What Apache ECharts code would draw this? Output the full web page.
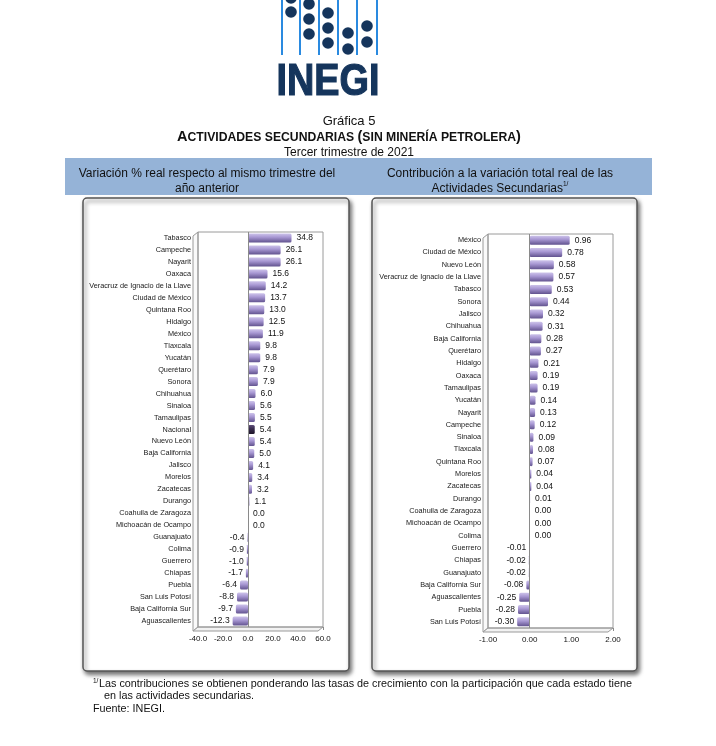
<!DOCTYPE html>
<html><head><meta charset="utf-8">
<script src="https://cdn.jsdelivr.net/npm/echarts@6/dist/echarts.min.js"></script>
<style>html,body{margin:0;padding:0;background:#fff}#c{width:716px;height:746px}</style>
</head><body><div id="c"></div>
<script>
const leftCategories = ['Tabasco','Campeche','Nayarit','Oaxaca','Veracruz de Ignacio de la Llave','Ciudad de México','Quintana Roo','Hidalgo','México','Tlaxcala','Yucatán','Querétaro','Sonora','Chihuahua','Sinaloa','Tamaulipas','Nacional','Nuevo León','Baja California','Jalisco','Morelos','Zacatecas','Durango','Coahuila de Zaragoza','Michoacán de Ocampo','Guanajuato','Colima','Guerrero','Chiapas','Puebla','San Luis Potosí','Baja California Sur','Aguascalientes'];
const leftValues = [34.8,26.1,26.1,15.6,14.2,13.7,13.0,12.5,11.9,9.8,9.8,7.9,7.9,6.0,5.6,5.5,5.4,5.4,5.0,4.1,3.4,3.2,1.1,0.0,0.0,-0.4,-0.9,-1.0,-1.7,-6.4,-8.8,-9.7,-12.3];
const rightCategories = ['México','Ciudad de México','Nuevo León','Veracruz de Ignacio de la Llave','Tabasco','Sonora','Jalisco','Chihuahua','Baja California','Querétaro','Hidalgo','Oaxaca','Tamaulipas','Yucatán','Nayarit','Campeche','Sinaloa','Tlaxcala','Quintana Roo','Morelos','Zacatecas','Durango','Coahuila de Zaragoza','Michoacán de Ocampo','Colima','Guerrero','Chiapas','Guanajuato','Baja California Sur','Aguascalientes','Puebla','San Luis Potosí'];
const rightValues = [0.96,0.78,0.58,0.57,0.53,0.44,0.32,0.31,0.28,0.27,0.21,0.19,0.19,0.14,0.13,0.12,0.09,0.08,0.07,0.04,0.04,0.01,0.00,0.00,0.00,-0.01,-0.02,-0.02,-0.08,-0.25,-0.28,-0.30];
const leftAxis = {min:-40, max:60, interval:20, decimals:1};
const rightAxis = {min:-1, max:2, interval:1, decimals:2};
const highlightCategory = 'Nacional';

const FONT = '"Liberation Sans", Arial, sans-serif';
const chart = echarts.init(document.getElementById('c'), null, {renderer:'canvas'});

const barGrad = new echarts.graphic.LinearGradient(0,0,0,1,[
  {offset:0,color:'#cdc3ea'},{offset:0.4,color:'#a999d4'},{offset:1,color:'#62538f'}]);
const darkGrad = new echarts.graphic.LinearGradient(0,0,0,1,[
  {offset:0,color:'#5e4f7a'},{offset:0.4,color:'#3a2d50'},{offset:1,color:'#1d1528'}]);

const G = [
  {left:198, top:232, width:125, height:395},
  {left:488, top:234, width:125, height:394}
];

function buildData(cats, vals, dec){
  return vals.map((v,i)=>({
    value:v,
    label:{position: v<0?'left':'right', distance: v<0?3:5, formatter: ()=>v.toFixed(dec)},
    itemStyle: cats[i]===highlightCategory ? {color:darkGrad} : {color:barGrad}
  }));
}

function catAxis(gi, cats, fs){
  return {type:'category', gridIndex:gi, data:cats, inverse:true,
     axisLine:{show:false}, axisTick:{show:false},
     axisLabel:{fontFamily:FONT, fontSize:fs, color:'#1a1a1a', margin:7, interval:0}};
}

function valAxis(gi, ax){
  return {type:'value', gridIndex:gi, min:ax.min, max:ax.max, interval:ax.interval,
    splitLine:{show:false},
    axisLine:{show:true, onZero:false, lineStyle:{color:'#8a8a8a'}},
    axisTick:{show:true, length:3, lineStyle:{color:'#8a8a8a'}},
    axisLabel:{fontFamily:FONT, fontSize:8, color:'#111', margin:8,
      formatter:(v)=>v.toFixed(ax.decimals)}};
}

function frame(g){
  const L=g.left, T=g.top, R=g.left+g.width, B=g.top+g.height, d=5;
  return [
    {type:'polygon', shape:{points:[[L,T],[L,B],[L-d,B+4],[L-d,T+4]]}, style:{fill:'#fafafa', stroke:'#9a9a9a', lineWidth:1}, z:1},
    {type:'polygon', shape:{points:[[L,B],[R,B],[R-d,B+4],[L-d,B+4]]}, style:{fill:'#f2f2f2', stroke:'#9a9a9a', lineWidth:1}, z:1},
    {type:'rect', shape:{x:L,y:T,width:g.width,height:g.height}, style:{fill:'none', stroke:'#9a9a9a', lineWidth:1}, z:1}
  ];
}

const logoLines = [282,300,319,338,357,377];
const logoDots = [[291,-2],[291,12],[309,4],[309,19],[309,34],[328,13],[328,28],[328,43],[348,33],[348,49],[367,26],[367,42]];

const graphic = [
  {type:'rect', shape:{x:83,y:198,width:266,height:473,r:4}, style:{fill:'#fff', stroke:'#555', lineWidth:1.5, shadowBlur:4, shadowOffsetX:2, shadowOffsetY:3, shadowColor:'rgba(0,0,0,0.55)'}, z:-5},
  {type:'rect', shape:{x:372,y:198,width:265,height:473,r:4}, style:{fill:'#fff', stroke:'#555', lineWidth:1.5, shadowBlur:4, shadowOffsetX:2, shadowOffsetY:3, shadowColor:'rgba(0,0,0,0.55)'}, z:-5},
  {type:'rect', shape:{x:65,y:158,width:587,height:37}, style:{fill:'#95b3d7'}, z:-5},
  {type:'text', x:349, y:114, style:{
    text:'{a|Gráfica 5}\n{b|A}{c|CTIVIDADES SECUNDARIAS }{b|(}{c|SIN MINERÍA PETROLERA}{b|)}\n{d|Tercer trimestre de 2021}',
    align:'center', verticalAlign:'top', lineHeight:15.5,
    rich:{
      a:{fontFamily:FONT, fontSize:13, fill:'#111', lineHeight:15.5},
      b:{fontFamily:FONT, fontSize:14.5, fontWeight:'bold', fill:'#111', lineHeight:15.5},
      c:{fontFamily:FONT, fontSize:12.2, fontWeight:'bold', fill:'#111', lineHeight:15.5},
      d:{fontFamily:FONT, fontSize:12, fill:'#111', lineHeight:15.5}
    }}, z:3},
  {type:'text', x:207, y:166, style:{text:'Variación % real respecto al mismo trimestre del\naño anterior', fontFamily:FONT, fontSize:12, fill:'#111', align:'center', verticalAlign:'top', lineHeight:15}, z:3},
  {type:'text', x:500, y:166, style:{text:'{t|Contribución a la variación total real de las}\n{t|Actividades Secundarias}{s|1/}', fontFamily:FONT, fontSize:12, fill:'#111', align:'center', verticalAlign:'top', lineHeight:15,
    rich:{t:{fontFamily:FONT, fontSize:12, fill:'#111', lineHeight:15}, s:{fontFamily:FONT, fontSize:6.5, fill:'#111', verticalAlign:'top', lineHeight:15}}}, z:3},
  {type:'text', x:93, y:678, style:{text:'1/', fontFamily:FONT, fontSize:6.5, fill:'#111'}, z:3},
  {type:'text', x:99, y:679, style:{text:'Las contribuciones se obtienen ponderando las tasas de crecimiento con la participación que cada estado tiene', fontFamily:FONT, fontSize:10.8, fill:'#111'}, z:3},
  {type:'text', x:104, y:691, style:{text:'en las actividades secundarias.', fontFamily:FONT, fontSize:10.8, fill:'#111'}, z:3},
  {type:'text', x:93, y:704, style:{text:'Fuente: INEGI.', fontFamily:FONT, fontSize:10.8, fill:'#111'}, z:3},
  {type:'text', x:328, y:61, scaleX:0.86, originX:0, originY:0, style:{text:'INEGI', fontFamily:FONT, fontWeight:'bold', fontSize:44, fill:'#15355c', stroke:'#15355c', lineWidth:1.2, align:'center', verticalAlign:'top'}, z:3}
].concat(logoLines.map(x=>({type:'line', shape:{x1:x,y1:0,x2:x,y2:55}, style:{stroke:'#2a8ae0', lineWidth:2}, z:2})))
 .concat(logoDots.map(p=>({type:'circle', shape:{cx:p[0],cy:p[1],r:5.8}, style:{fill:'#15355c'}, z:3})))
 .concat(frame(G[0])).concat(frame(G[1]));

const labelStyle = (fs)=>({show:true, fontFamily:FONT, fontSize:fs, color:'#111'});
const zeroLine = {silent:true, symbol:'none', label:{show:false}, lineStyle:{color:'#8a8a8a', type:'solid', width:1}, data:[{xAxis:0}]};

chart.setOption({
  backgroundColor:'#fff',
  animation:false,
  graphic: graphic,
  grid: G.map(g=>Object.assign({show:false}, g)),
  xAxis:[valAxis(0,leftAxis), valAxis(1,rightAxis)],
  yAxis:[catAxis(0,leftCategories,7.3), catAxis(1,rightCategories,7.3)],
  series:[
    {type:'bar', xAxisIndex:0, yAxisIndex:0, barWidth:9, data:buildData(leftCategories,leftValues,leftAxis.decimals),
     label:labelStyle(8.5), itemStyle:{borderRadius:1.5}, markLine:zeroLine, z:3},
    {type:'bar', xAxisIndex:1, yAxisIndex:1, barWidth:9, data:buildData(rightCategories,rightValues,rightAxis.decimals),
     label:labelStyle(8.5), itemStyle:{borderRadius:1.5}, markLine:zeroLine, z:3}
  ]
});
</script>
</body></html>
